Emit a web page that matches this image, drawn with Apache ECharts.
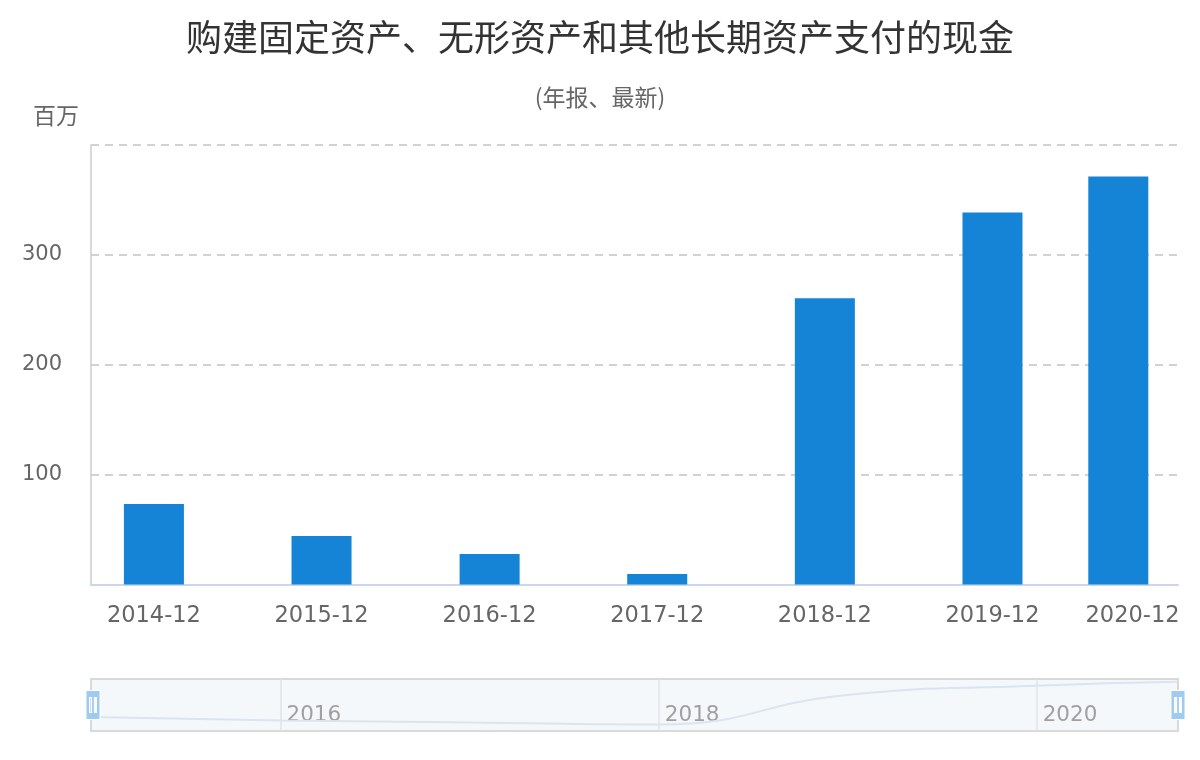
<!DOCTYPE html>
<html>
<head>
<meta charset="utf-8">
<script src="https://cdn.jsdelivr.net/npm/echarts@6/dist/echarts.min.js"></script>
<style>html,body{margin:0;padding:0;background:#fff}#c{width:1200px;height:760px}</style>
</head>
<body>
<div id="c"></div>
<script>
// ---- data ----
const chartTitle = '购建固定资产、无形资产和其他长期资产支付的现金';
const chartSubtitle = '(年报、最新)';
const unitLabel = '百万';
const reportDates = ['2014-12-31', '2015-12-31', '2016-12-31', '2017-12-31', '2018-12-31', '2019-12-31', '2020-09-30'];
const cashPaid = [73.2, 44.1, 27.7, 9.5, 260.5, 338.6, 371.4];
const xLabelDates = ['2014-12-31', '2015-12-31', '2016-12-31', '2017-12-31', '2018-12-31', '2019-12-31', '2020-12-31'];
const navLabelDates = ['2016-01-01', '2018-01-01', '2020-01-01'];

const numFont = 'DejaVu Sans';
const cjkFont = 'Noto Sans CJK SC';

const ts = (s) => new Date(s + 'T00:00:00').getTime();
function fmtYM(v) {
  const d = new Date(v);
  const m = d.getMonth() + 1;
  return d.getFullYear() + '-' + (m < 10 ? '0' + m : m);
}
const lastLabelTs = ts(xLabelDates[xLabelDates.length - 1]);
const seriesData = reportDates.map((d, i) => [ts(d), cashPaid[i]]);

const chart = echarts.init(document.getElementById('c'), null, { renderer: 'canvas' });
chart.setOption({
  animation: false,
  backgroundColor: '#ffffff',
  title: [
    { text: chartTitle, left: 'center', top: 14,
      textStyle: { fontFamily: cjkFont, fontSize: 36, fontWeight: 'normal', color: '#333333' } },
    { text: chartSubtitle, left: 'center', top: 81,
      textStyle: { fontFamily: cjkFont, fontSize: 23, fontWeight: 'normal', color: '#666666' } },
    { text: unitLabel, left: 28, top: 99,
      textStyle: { fontFamily: cjkFont, fontSize: 23, fontWeight: 'normal', color: '#666666' } }
  ],
  grid: [
    { left: 91, right: 22, top: 145, bottom: 175.5 },
    { left: 91, right: 22, top: 679, height: 52, show: true,
      backgroundColor: '#f5f8fb', borderColor: '#d9d9d9', borderWidth: 2 }
  ],
  xAxis: [
    { type: 'value', gridIndex: 0, min: ts('2014-08-16'), max: ts('2021-02-07'),
      axisLine: { show: true, lineStyle: { color: '#ccd6eb', width: 2 } },
      axisTick: { show: false, customValues: xLabelDates.map(ts) },
      splitLine: { show: false },
      axisLabel: {
        customValues: xLabelDates.map(ts), margin: 20, showMinLabel: true, showMaxLabel: true,
        fontFamily: numFont, fontSize: 22.5, color: '#666666',
        formatter: function (v) {
          const s = fmtYM(v);
          return Math.abs(v - lastLabelTs) < 86400000 ? '{r|' + s + '}' : s;
        },
        rich: { r: { fontFamily: numFont, fontSize: 22.5, color: '#666666', padding: [0, 56, 0, 0] } }
      }
    },
    { type: 'value', gridIndex: 1, min: ts(reportDates[0]), max: ts(reportDates[reportDates.length - 1]),
      axisLine: { show: false },
      axisTick: { show: false, customValues: navLabelDates.map(ts) },
      splitLine: { show: true, lineStyle: { color: '#e0e3e7', width: 1.5 } },
      axisLabel: {
        customValues: navLabelDates.map(ts), inside: true, margin: 5, align: 'left',
        padding: [0, 0, 0, 6],
        fontFamily: numFont, fontSize: 21.5, color: '#a0a0a0',
        formatter: function (v) { return String(new Date(v).getFullYear()); }
      }
    }
  ],
  yAxis: [
    { type: 'value', gridIndex: 0, min: 0, max: 400, interval: 100,
      axisLine: { show: true, lineStyle: { color: '#cccccc', width: 1.5 } },
      axisTick: { show: false },
      axisLabel: { showMinLabel: false, showMaxLabel: false, margin: 29,
        fontFamily: numFont, fontSize: 21, color: '#666666' },
      splitLine: { show: true, lineStyle: { color: '#c4c4c4', width: 1.5, type: [8, 6] } }
    },
    { type: 'value', gridIndex: 1, min: -45, max: 395,
      axisLine: { show: false }, axisTick: { show: false },
      axisLabel: { show: false }, splitLine: { show: false } }
  ],
  dataZoom: [
    { type: 'slider', xAxisIndex: 0, filterMode: 'none', start: 0, end: 100,
      left: 91, right: 22, top: 679, height: 52,
      backgroundColor: 'rgba(0,0,0,0)', borderColor: 'rgba(0,0,0,0)', fillerColor: 'rgba(0,0,0,0)',
      showDataShadow: false, showDetail: false, brushSelect: false, moveHandleSize: 0,
      handleIcon: 'path://M0,0 L14,0 L14,29 L0,29 Z M3.6,7 L3.6,22 L5.6,22 L5.6,7 Z M8.4,7 L8.4,22 L10.4,22 L10.4,7 Z',
      handleSize: '56%',
      handleStyle: { color: '#9ecbf0', borderColor: '#ffffff', borderWidth: 1 },
      dataBackground: { lineStyle: { opacity: 0 }, areaStyle: { opacity: 0 } },
      selectedDataBackground: { lineStyle: { opacity: 0 }, areaStyle: { opacity: 0 } },
      z: 10
    }
  ],
  series: [
    { type: 'bar', xAxisIndex: 0, yAxisIndex: 0, barWidth: 60,
      itemStyle: { color: '#1583d6' },
      data: seriesData },
    { type: 'line', xAxisIndex: 1, yAxisIndex: 1, smooth: true, showSymbol: false, silent: true,
      lineStyle: { color: '#dce4ee', width: 2 },
      data: seriesData }
  ]
});
</script>
</body>
</html>
